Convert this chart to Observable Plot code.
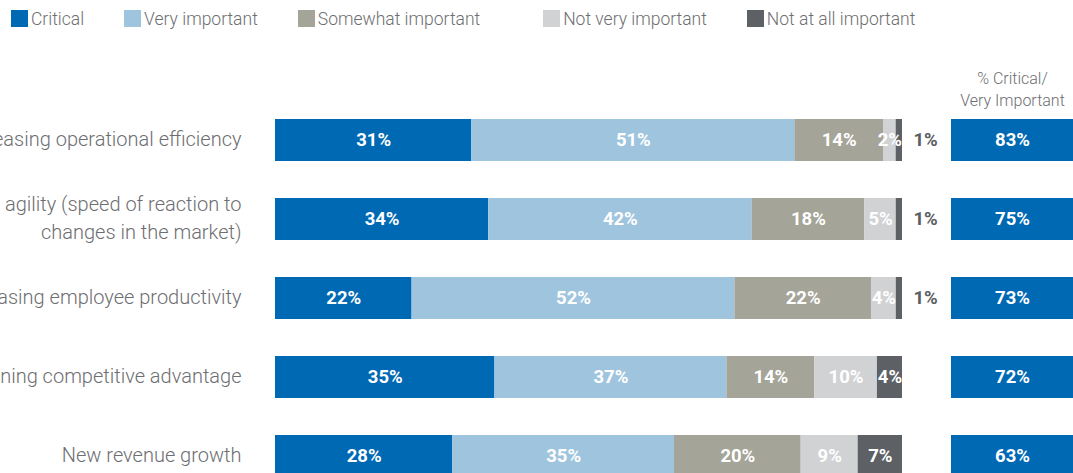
<!DOCTYPE html>
<html><head><meta charset="utf-8">
<script src="https://cdn.jsdelivr.net/npm/d3@7"></script>
<script src="https://cdn.jsdelivr.net/npm/@observablehq/plot@0.6"></script>
<style>
html,body{margin:0;padding:0;background:#fff;overflow:hidden;width:1073px;height:473px;}
body{font-family:Roboto,"Open Sans",sans-serif;}
#legend{height:40px;display:flex;align-items:flex-start;padding-left:11px;padding-top:10px;box-sizing:border-box;gap:40px;}
.item{display:flex;align-items:center;height:17px;font-size:17.5px;color:#6d6e71;font-weight:300;white-space:nowrap;}
.sw{width:17px;height:17px;margin-right:3px;flex-shrink:0;}
#charts{display:flex;}
#charts svg{flex-shrink:0;}
</style></head><body>
<div id="legend"></div>
<div id="charts"></div>
<script>
const categories = [
  "Increasing operational efficiency",
  "Increasing business agility (speed of reaction to\nchanges in the market)",
  "Increasing employee productivity",
  "Gaining competitive advantage",
  "New revenue growth"
];
const seriesNames = ["Critical", "Very important", "Somewhat important", "Not very important", "Not at all important"];
const seriesColors = ["#0069b4", "#9fc5de", "#a4a498", "#d1d2d4", "#5d6166"];
const critical      = [31, 34, 22, 35, 28];
const veryImportant = [51, 42, 52, 37, 35];
const somewhat      = [14, 18, 22, 14, 20];
const notVery       = [2, 5, 4, 10, 9];
const notAtAll      = [1, 1, 1, 4, 7];
const criticalOrVery = [83, 75, 73, 72, 63];
const summaryHeader = "% Critical/\nVery Important";

const series = [critical, veryImportant, somewhat, notVery, notAtAll];
const rows = categories.flatMap((c, i) => seriesNames.map((s, j) => ({cat: c, series: s, value: series[j][i]})));
const summaryRows = categories.map((c, i) => ({cat: c, value: criticalOrVery[i]}));
const lastSeries = seriesNames[seriesNames.length - 1];

// legend
const legend = document.getElementById("legend");
seriesNames.forEach((s, i) => {
  const it = document.createElement("div");
  it.className = "item";
  if (i === 3) it.style.marginLeft = "23px";
  const sw = document.createElement("span");
  sw.className = "sw";
  sw.style.background = seriesColors[i];
  it.appendChild(sw);
  it.appendChild(document.createTextNode(s));
  legend.appendChild(it);
});

const yOpts = {domain: categories, axis: null, paddingInner: 0.468, paddingOuter: 0.234};
const common = {height: 480, marginTop: 60.5, marginBottom: 24.5,
  style: {fontFamily: "Roboto, 'Open Sans', sans-serif", background: "transparent", overflow: "visible"}};

const main = Plot.plot({
  ...common,
  width: 930, marginLeft: 275, marginRight: 28,
  x: {axis: null},
  y: yOpts,
  color: {domain: seriesNames, range: seriesColors},
  marks: [
    Plot.barX(rows, Plot.stackX({offset: "normalize", x: "value", y: "cat", fill: "series"})),
    Plot.text(rows, Plot.stackX({offset: "normalize", x: "value", y: "cat",
      text: d => d.value >= 2 ? d.value + "%" : "", fill: "white", fontWeight: 700, fontSize: 18.5})),
    Plot.text(rows, Plot.stackX2({offset: "normalize", x: "value", y: "cat",
      text: d => (d.series === lastSeries && d.value < 2) ? d.value + "%" : "",
      textAnchor: "start", dx: 11, fill: "#5b5e62", fontWeight: 700, fontSize: 18.5})),
    Plot.text(categories, {y: d => d, text: d => d, frameAnchor: "left", dx: -34, dy: -3, textAnchor: "end",
      fontSize: 20, fill: "#6d6e71", fontWeight: 300, lineHeight: 1.4})
  ]
});

const side = Plot.plot({
  ...common,
  width: 143, marginLeft: 21, marginRight: 0,
  x: {domain: [summaryHeader], axis: null, padding: 0},
  y: yOpts,
  marks: [
    Plot.cell(summaryRows, {x: () => summaryHeader, y: "cat", fill: "#0069b4"}),
    Plot.text(summaryRows, {x: () => summaryHeader, y: "cat", text: d => d.value + "%",
      fill: "white", fontWeight: 700, fontSize: 18.5}),
    Plot.text([summaryHeader], {text: d => d, frameAnchor: "top", dy: -13.5, lineAnchor: "middle",
      fontSize: 16, lineHeight: 1.375, fill: "#6d6e71", fontWeight: 300})
  ]
});

const charts = document.getElementById("charts");
charts.appendChild(main);
charts.appendChild(side);
</script>
</body></html>
